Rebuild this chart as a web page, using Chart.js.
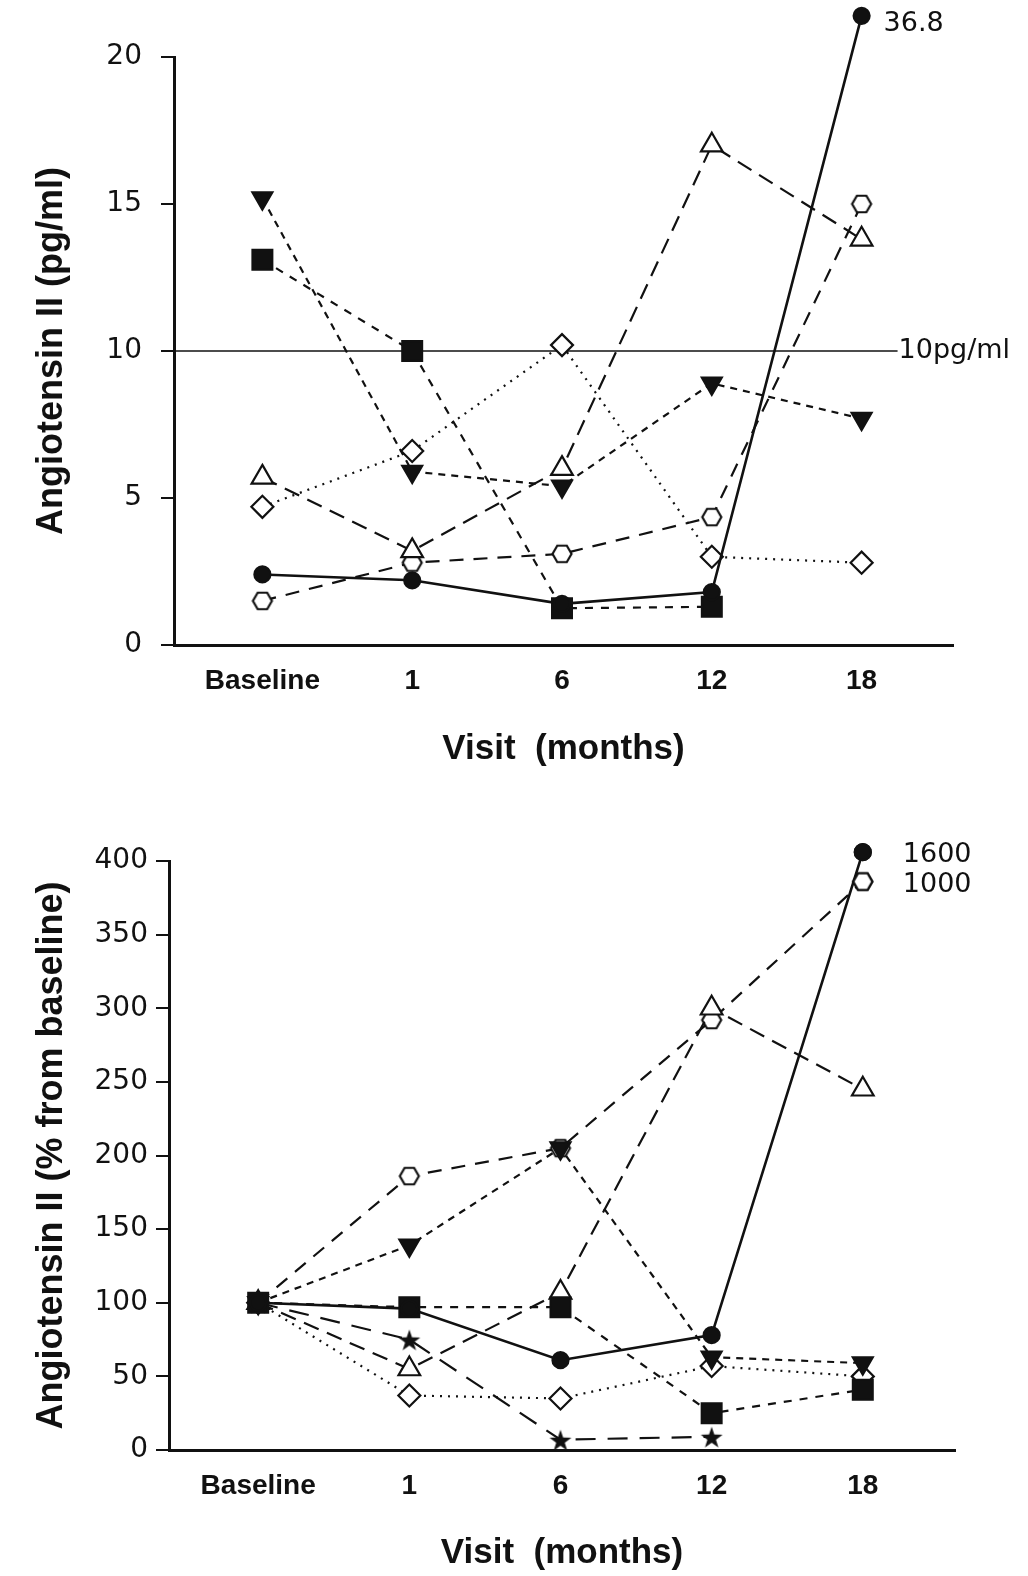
<!DOCTYPE html>
<html>
<head>
<meta charset="utf-8">
<script src="https://cdn.jsdelivr.net/npm/chart.js@4.4.1/dist/chart.umd.min.js"></script>
<style>
  html, body { margin: 0; padding: 0; background: #fff; }
  .panel { position: absolute; left: 0; width: 1028px; }
</style>
</head>
<body>
<div class="panel" style="top:0"><canvas id="top" width="1028" height="790"></canvas></div>
<div class="panel" style="top:790px"><canvas id="bottom" width="1028" height="786"></canvas></div>
<script>
// x categories
var visits = ['Baseline', '1', '6', '12', '18'];

// top panel: Angiotensin II, pg/ml
var topCircle  = [2.4, 2.2, 1.4, 1.8, 21.4];   // last point is off scale (36.8)
var topSquare  = [13.1, 10.0, 1.25, 1.3, null];
var topDownTri = [15.2, 5.9, 5.4, 8.9, 7.7];
var topOpenTri = [5.7, 3.2, 6.0, 17.0, 13.8];
var topDiamond = [4.7, 6.6, 10.2, 3.0, 2.8];
var topHexagon = [1.5, 2.8, 3.1, 4.35, 15.0];
var topTicks = [0, 5, 10, 15, 20];
var refLevel = 10;

// bottom panel: % from baseline
var botCircle  = [100, 96, 61, 78, 406];   // off scale (1600)
var botSquare  = [100, 97, 97, 25, 41];
var botDownTri = [100, 139, 205, 63, 59];
var botOpenTri = [100, 55, 107, 300, 245];
var botDiamond = [100, 37, 35, 57, 50];
var botHexagon = [100, 186, 205, 292, 386];  // off scale (1000)
var botStar    = [100, 75, 7, 9, null];
var botTicks = [0, 50, 100, 150, 200, 250, 300, 350, 400];

Chart.defaults.font.family = '"Liberation Sans", Arial, sans-serif';
Chart.defaults.color = '#111';

function marker(size, draw) {
  var c = document.createElement('canvas');
  c.width = size; c.height = size;
  var g = c.getContext('2d');
  draw(g, size / 2);
  return c;
}
var hexagon = marker(24, function (g, m) {
  g.beginPath();
  for (var k = 0; k < 6; k++) {
    var a = Math.PI / 3 * k;
    g.lineTo(m + 9.5 * Math.cos(a), m + 9.5 * Math.sin(a));
  }
  g.closePath();
  g.fillStyle = '#fff'; g.fill();
  g.lineWidth = 2.2; g.strokeStyle = '#111'; g.stroke();
});
var star = marker(26, function (g, m) {
  g.beginPath();
  for (var k = 0; k < 10; k++) {
    var r = k % 2 ? 4.5 : 11.5;
    var a = -Math.PI / 2 + Math.PI / 5 * k;
    g.lineTo(m + r * Math.cos(a), m + 1.5 + r * Math.sin(a));
  }
  g.closePath();
  g.fillStyle = '#111'; g.fill();
});

function pts(arr) {
  return arr.map(function (v, i) { return { x: i, y: v }; });
}

function series(values, style) {
  var base = {
    data: pts(values),
    borderColor: '#111',
    borderWidth: 2.2,
    pointBorderColor: '#111',
    pointBorderWidth: 2.2,
    pointBackgroundColor: '#111',
    tension: 0,
    clip: false
  };
  return Object.assign(base, style);
}

var styles = {
  circle:  { borderDash: [], borderWidth: 2.6, pointStyle: 'circle', pointRadius: 8 },
  square:  { borderDash: [8, 8], pointStyle: 'rect', pointRadius: 14 },
  downTri: { borderDash: [7, 6], pointStyle: 'triangle', pointRotation: 180, pointRadius: 11.5 },
  openTri: { borderDash: [16, 9], pointStyle: 'triangle', pointRadius: 12.5, pointBackgroundColor: '#fff' },
  diamond: { borderDash: [2, 6], pointStyle: 'rectRot', pointRadius: 11, pointBackgroundColor: '#fff' },
  hexagon: { borderDash: [14, 10], pointStyle: hexagon },
  star:    { borderDash: [20, 12], pointStyle: star }
};

var notesPlugin = {
  id: 'notes',
  beforeDatasetsDraw: function (chart, args, opts) {
    if (opts.refLevel == null) return;
    var ctx = chart.ctx;
    var y = chart.scales.y.getPixelForValue(opts.refLevel);
    var x1 = chart.scales.x.getPixelForValue(opts.refEnd);
    ctx.save();
    ctx.strokeStyle = '#111';
    ctx.lineWidth = 1.6;
    ctx.beginPath();
    ctx.moveTo(chart.chartArea.left, y);
    ctx.lineTo(x1, y);
    ctx.stroke();
    ctx.font = '27px "DejaVu Sans"';
    ctx.fillStyle = '#111';
    ctx.textBaseline = 'middle';
    ctx.fillText(opts.refText, x1 + 1, y);
    ctx.restore();
  },
  afterDatasetsDraw: function (chart, args, opts) {
    var ctx = chart.ctx;
    ctx.save();
    (opts.items || []).forEach(function (n) {
      var p = chart.getDatasetMeta(n.ds).data[n.i];
      p.draw(ctx);  // off-scale point, drawn without the chart-area check
      ctx.font = '27px "DejaVu Sans"';
      ctx.fillStyle = '#111';
      ctx.textBaseline = 'middle';
      ctx.fillText(n.text, p.x + n.dx, p.y + n.dy);
    });
    ctx.restore();
  }
};

function makeChart(id, datasets, yTicks, yTitle, geo, notes) {
  return new Chart(document.getElementById(id), {
    type: 'line',
    data: { datasets: datasets },
    plugins: [notesPlugin],
    options: {
      responsive: false,
      animation: false,
      layout: { padding: { top: geo.top, right: geo.right, left: 0, bottom: 0 } },
      plugins: { legend: { display: false }, tooltip: { enabled: false }, notes: notes },
      scales: {
        x: {
          type: 'linear',
          min: -0.59,
          max: 4.61,
          afterBuildTicks: function (s) { s.ticks = visits.map(function (_, i) { return { value: i }; }); },
          afterFit: function (s) { s.height = geo.xHeight; },
          ticks: {
            callback: function (v) { return visits[v]; },
            font: { size: 28, weight: 'bold' },
            padding: 19,
            maxRotation: 0
          },
          grid: { display: false, drawTicks: false },
          border: { display: true, color: '#111', width: 3 },
          title: {
            display: true,
            text: 'Visit  (months)',
            font: { size: 35, weight: 'bold' },
            padding: { top: 0, bottom: geo.titlePad }
          }
        },
        y: {
          min: yTicks[0],
          max: yTicks[yTicks.length - 1],
          afterBuildTicks: function (s) { s.ticks = yTicks.map(function (v) { return { value: v }; }); },
          afterFit: function (s) { s.width = geo.left; },
          ticks: { font: { family: '"DejaVu Sans"', size: 28 }, padding: geo.tickPad },
          grid: { display: true, drawOnChartArea: false, drawTicks: true, tickLength: 13, color: '#111', lineWidth: 2 },
          border: { display: true, color: '#111', width: 3 },
          title: {
            display: true,
            text: yTitle,
            font: { size: 36, weight: 'bold' },
            padding: { top: 30, bottom: 0 }
          }
        }
      }
    }
  });
}

makeChart('top', [
  series(topCircle, styles.circle),
  series(topSquare, styles.square),
  series(topDownTri, styles.downTri),
  series(topOpenTri, styles.openTri),
  series(topDiamond, styles.diamond),
  series(topHexagon, styles.hexagon)
], topTicks, 'Angiotensin II (pg/ml)',
  { top: 57, right: 75, left: 174, xHeight: 145, titlePad: 20, tickPad: 19 },
  { items: [{ ds: 0, i: 4, text: '36.8', dx: 22, dy: 8 }], refLevel: refLevel, refEnd: 4.24, refText: '10pg/ml' });

makeChart('bottom', [
  series(botCircle, styles.circle),
  series(botSquare, styles.square),
  series(botDownTri, styles.downTri),
  series(botOpenTri, styles.openTri),
  series(botDiamond, styles.diamond),
  series(botHexagon, styles.hexagon),
  series(botStar, styles.star)
], botTicks, 'Angiotensin II (% from baseline)',
  { top: 71, right: 73, left: 169, xHeight: 126, titlePad: 2, tickPad: 8 },
  { items: [{ ds: 0, i: 4, text: '1600', dx: 40, dy: 3 }, { ds: 5, i: 4, text: '1000', dx: 40, dy: 3 }] });
</script>
</body>
</html>
